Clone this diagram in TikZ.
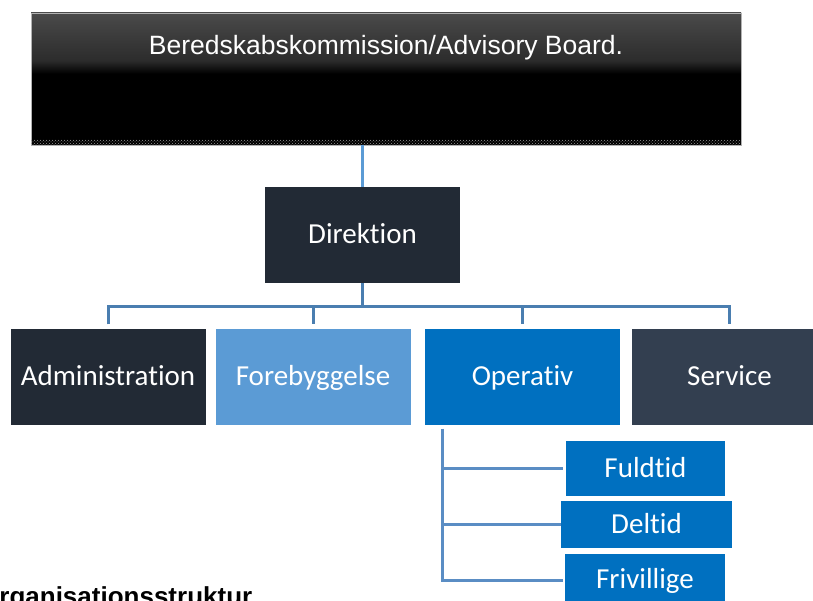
\documentclass[tikz,border=0pt]{standalone}
\usepackage{fontspec}
\setmainfont{Liberation Sans}
\newfontfamily\calibrifont[Ligatures=NoCommon]{Carlito}
\usetikzlibrary{patterns}

\definecolor{navy}{HTML}{222A35}
\definecolor{slate}{HTML}{333F50}
\definecolor{skyblue}{HTML}{5B9BD5}
\definecolor{deepblue}{HTML}{0070C0}
\definecolor{busblue}{HTML}{4A7EB0}
\definecolor{subblue}{HTML}{5A8DC4}
\definecolor{boardtop}{HTML}{4A4A4A}
\definecolor{boardmid}{HTML}{2C2C2C}

% dark gloss: grey at the top fading to black just above the middle
\pgfdeclareverticalshading{boardshade}{100bp}{%
  color(0bp)=(black); color(52bp)=(black); color(57bp)=(boardmid);
  color(75bp)=(boardtop); color(100bp)=(boardtop)}

\tikzset{
  unit/.style={rectangle, inner sep=0pt, text=white,
    text height=23pt, text depth=6pt,
    font=\calibrifont\fontsize{29}{31}\selectfont},
  rowbox/.style={unit, minimum width=195pt, minimum height=96pt},
  subbox/.style={unit, fill=deepblue},
  topline/.style={draw=skyblue, line width=2.5pt},
  busline/.style={draw=busblue, line width=3pt},
  subline/.style={draw=subblue, line width=3pt},
}

\begin{document}
\begin{tikzpicture}[x=1pt, y=-1pt]
  \useasboundingbox (0,0) rectangle (813,601);
  \clip (0,0) rectangle (813,601);

  % advisory board banner
  \node[rectangle, inner sep=0pt, minimum width=710pt, minimum height=132pt,
        shading=boardshade, draw=gray!60, line width=0.4pt] (board) at (386,79) {};
  \fill[pattern=crosshatch dots, pattern color=gray!80] (31,140) rectangle (741,145);
  \node[anchor=base, text=white, font=\fontsize{26.5}{30}\selectfont, inner sep=0pt]
        (boardlabel) at (386,55) {Beredskabskommission/Advisory Board.};

  % management
  \node[rowbox, fill=navy] (dir) at (362.5,235) {Direktion};

  % departments
  \node[rowbox, fill=navy]     (admin) at (108,376.5)   {Administration};
  \node[rowbox, fill=skyblue]  (fore)  at (313,376.5)   {Forebyggelse};
  \node[rowbox, fill=deepblue] (oper)  at (522.5,376.5) {Operativ};
  \node[rowbox, fill=slate]    (serv)  at (729.5,376.5) {Service};

  % operational units
  \node[subbox, minimum width=159pt, minimum height=55pt] (fuld) at (645.5,468.5) {Fuldtid};
  \node[subbox, minimum width=171pt, minimum height=47pt] (delt) at (646.5,524.5) {Deltid};
  \node[subbox, minimum width=160pt, minimum height=52pt] (friv) at (645,580)     {Frivillige};

  % board to management
  \draw[topline] (dir.north |- board.south) -- (dir.north);

  % management to departments
  \coordinate (bus) at ([yshift=22pt]admin.north);
  \draw[busline] (dir.south) -- (dir.south |- bus);
  \draw[busline] ([yshift=4pt]admin.north) -- (bus) -- (serv.north |- bus) -- ([yshift=4pt]serv.north);
  \draw[busline] (fore.north |- bus) -- ([yshift=4pt]fore.north);
  \draw[busline] (oper.north |- bus) -- ([yshift=4pt]oper.north);

  % operational units
  \coordinate (trunk) at ([xshift=18pt,yshift=-4pt]oper.south west);
  \draw[subline] (trunk) |- ([xshift=-2pt]friv.west);
  \draw[subline] (trunk |- fuld.west) -- ([xshift=-3pt]fuld.west);
  \draw[subline] (trunk |- delt.west) -- (delt.west);

  % caption
  \node[anchor=base west, inner sep=0pt, font=\bfseries\fontsize{26}{28}\selectfont]
        (caption) at (-21,605.5) {Organisationsstruktur};
\end{tikzpicture}
\end{document}
